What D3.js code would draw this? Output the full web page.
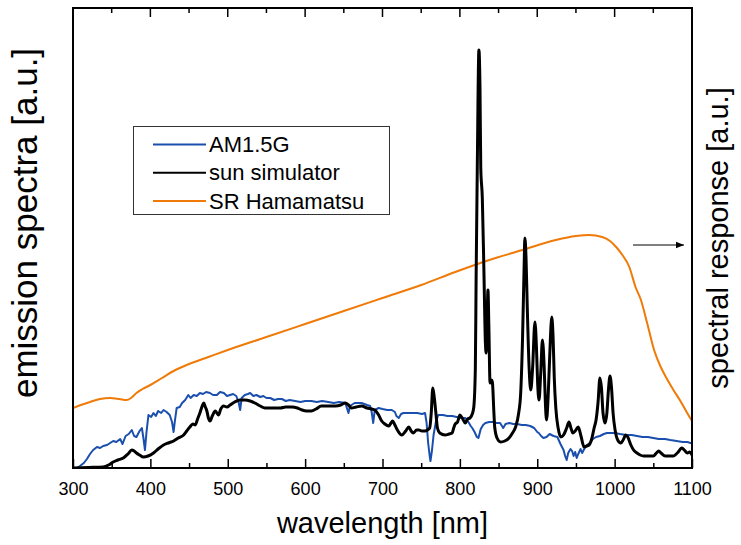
<!DOCTYPE html>
<html>
<head>
<meta charset="utf-8">
<script src="https://cdn.jsdelivr.net/npm/d3@7"></script>
<style>
  body { margin: 0; background: #fff; }
  text { font-family: "Liberation Sans", Arial, sans-serif; }
</style>
</head>
<body>
<div class="chart"></div>
<script>
// AM1.5G reference spectrum (a.u.)
const am15Nm = [300,305,309,314,318,322,326,331,335,339,344,348,352,356,361,364,368,372,376,379,382,386,389,391,393,395,397.5,401,404,407,410,414,417,421,425,428,430,432,434,438,441,445,449,452,456,460,464,468,472,477,481,486,490,495,499,503,507,511,514,516,518,522,526,529,533,537,542,546,550,555,560,565,570,575,580,587,594,600,608,615,622,630,637,644,652,654,656,658,664,673,680,684,686,688,690,695,700,706,712,716,718,721,724,727,732,738,745,751,755,757,759,761,762,764,766,769,772,778,784,790,796,802,807,811,814,816,819,822,824,827,830,833,838,843,847,852,856,859,864,869,874,880,885,891,896,900,902,905,908,912,916,921,926,930,934,936,938,940,943,945,947,949,951,953,956,958,960,963,966,968,972,976,981,986,990,994,1000,1007,1015,1022,1029,1036,1043,1050,1057,1065,1072,1080,1088,1094,1098,1100];
const am15 = [0,0,0.2,0.5,0.9,1.4,1.8,2.1,2.0,2.2,2.3,2.5,2.7,2.6,2.9,2.4,3.2,3.4,3.8,3.2,3.1,3.7,4.0,3.0,1.8,3.6,5.3,5.1,5.5,5.2,5.7,5.5,5.8,5.6,5.3,4.6,3.6,4.9,6.0,6.1,6.5,6.8,7.3,7.0,7.3,7.2,7.5,7.4,7.6,7.5,7.3,7.3,7.6,7.5,7.2,7.3,7.4,7.2,6.6,5.8,7.0,7.3,7.4,7.5,7.2,7.3,7.1,7.2,7.0,7.0,6.8,6.9,6.9,6.7,6.8,6.7,6.6,6.7,6.7,6.6,6.7,6.6,6.5,6.6,6.5,6.0,5.5,6.2,6.5,6.5,6.3,6.2,5.6,4.5,5.8,6.0,5.9,5.8,5.8,5.6,5.2,5.0,5.4,5.5,5.5,5.5,5.5,5.4,5.5,4.5,2.5,1.2,0.7,1.8,3.3,4.6,5.3,5.3,5.2,5.2,5.1,5.0,5.0,4.6,4.2,4.0,3.6,3.1,3.0,3.9,4.3,4.5,4.6,4.6,4.5,4.5,4.0,4.4,4.5,4.4,4.4,4.3,4.3,4.2,4.0,3.6,3.5,3.2,3.0,3.1,3.4,3.2,3.1,2.4,1.8,1.2,0.8,1.5,1.9,1.7,1.2,1.6,1.0,1.4,1.9,1.5,1.8,2.2,2.4,2.5,2.9,3.1,3.2,3.4,3.5,3.5,3.5,3.4,3.3,3.3,3.2,3.1,3.1,3.0,2.9,2.9,2.8,2.7,2.6,2.6,2.5,2.5];

// sun simulator emission (a.u.)
const simNm = [300,320,339,346,352,358,365,371,376,379,382,386,391,397,404,410,417,423,430,436,443,447,451,455,458,461,464,467,469,471,473,475,477,480,484,486,488,491,494.6,499,503,509,516,522,529,535,542,548,555,562,568,575,583,590,596,602,608,614,621,630,639,646,652,656,660,666,673,680,686,690,695,699,703,708,711,713,716,720,725,730,734,737,740,744,747,751,755,758,761,763,765,767,769,771,774,781,786,790,792,794,797,800,803,807,810,813,816,818,820,821,822.5,824.6,826,827,829,831,833,834,835,836.3,837.5,839,841,842,844,845,848,852.7,858,863.5,868,872,876,878.6,881,883,884,885.5,887,889.5,891.6,894,897,899,900.5,902.3,904.5,906.7,909,910.5,912,914,916,918.8,920.5,922,924,927,930.5,934,938,941,943.5,946,949,953,956.5,960.5,964,967,970,973.5,976,978.5,981,983,985,987.6,990,992,994,996,998,1000.6,1004,1008,1011,1014.5,1017,1021,1024.5,1029,1033,1037.5,1044,1050,1054,1057,1060,1065.5,1071,1076,1081,1087,1090,1094,1097,1100];
const sim = [0,0.05,0.1,0.3,0.6,0.8,1.0,1.4,1.8,1.7,1.5,1.3,1.1,1.2,1.5,1.9,2.3,2.5,2.7,3.0,3.3,3.7,4.1,4.4,4.3,4.9,5.5,6.2,6.5,6.1,5.7,5.0,4.7,5.2,5.7,5.5,5.3,5.9,6.2,6.1,6.3,6.6,6.8,6.8,6.7,6.5,6.2,6.0,6.0,6.0,6.0,6.1,6.1,6.0,5.8,5.7,5.7,5.9,6.2,6.2,6.2,6.3,6.5,6.3,6.0,6.1,6.2,6.0,5.9,5.8,5.3,4.7,4.4,4.2,4.5,4.7,4.3,3.7,3.3,3.7,4.1,3.7,3.5,3.8,3.8,3.7,3.7,3.8,4.0,5.5,8.0,7.0,5.5,4.0,3.5,3.3,3.4,3.5,4.0,4.4,4.6,5.3,5.0,4.5,4.9,5.0,5.4,6.1,10,19,30,41.8,38,30,27,20,12.5,11.5,14,17.8,14,8.5,8.8,8.6,5.5,4.1,3.0,2.6,2.7,3.0,3.5,4.1,5.5,7.5,13,20,23,21,16.4,10,7.8,10,14.6,12,8.5,6.8,9.5,12.8,10,6.5,4.8,7,11,15.1,13,9,6.0,4.0,3.1,3.3,4.0,4.6,4.0,3.5,3.7,4.1,3.2,2.1,2.2,2.3,2.8,4.0,4.8,6.5,9.0,8.0,5.5,4.5,5.5,7.8,9.2,8.0,5.5,3.8,2.8,2.5,2.8,3.3,3.1,2.3,1.8,1.5,1.3,1.2,1.2,1.2,1.5,1.7,1.5,1.2,1.2,1.2,1.5,2.0,1.8,1.5,1.6,1.3];

// spectral response of the Hamamatsu detector (a.u.)
const srNm = [300,310,322,335,348,360,369,375,382,390,400,415,430,450,475,500,550,600,650,700,750,794,838,881,924,950,967,984,994,1002,1010,1019,1027,1034,1042,1051,1059,1067,1076,1085,1093,1100];
const sr = [6.0,6.3,6.6,6.9,7.0,6.9,6.8,7.0,7.5,7.9,8.3,9.0,9.7,10.4,11.1,11.8,13.1,14.4,15.7,17.0,18.3,19.6,20.8,21.8,22.8,23.2,23.3,23.1,22.7,22.1,21.3,20.1,18.1,16.8,14.5,11.8,10.2,9.0,7.8,6.7,5.6,4.7];

const xTicks = [300,400,500,600,700,800,900,1000,1100];
const seriesNames = ["AM1.5G", "sun simulator", "SR Hamamatsu"];
const seriesColors = ["#1a4fae", "#000000", "#f07a08"];

const W = 741, H = 545;
const pL = 73, pR = 692, pT = 8, pB = 468;

const svg = d3.select(".chart").append("svg")
  .attr("width", W).attr("height", H);

const x = d3.scaleLinear().domain([300, 1100]).range([pL, pR]);
const y = d3.scaleLinear().domain([0, 46]).range([pB, pT]);
const yR = d3.scaleLinear().domain([0, 46]).range([pB, pT]);

svg.append("clipPath").attr("id", "clip")
  .append("rect").attr("x", pL).attr("y", pT)
  .attr("width", pR - pL).attr("height", pB - pT);

const plot = svg.append("g").attr("clip-path", "url(#clip)");

const toPts = (nm, v) => nm.map((d, i) => [d, v[i]]);

const lineL = d3.line().x(d => x(d[0])).y(d => y(d[1]));
const lineS = d3.line().x(d => x(d[0])).y(d => y(d[1])).curve(d3.curveMonotoneX);
const lineR = d3.line().x(d => x(d[0])).y(d => yR(d[1])).curve(d3.curveMonotoneX);

plot.append("path").datum(toPts(srNm, sr))
  .attr("d", lineR).attr("fill", "none")
  .attr("stroke", seriesColors[2]).attr("stroke-width", 2);

plot.append("path").datum(toPts(am15Nm, am15))
  .attr("d", lineL).attr("fill", "none")
  .attr("stroke", seriesColors[0]).attr("stroke-width", 2)
  .attr("stroke-linejoin", "round");

plot.append("path").datum(toPts(simNm, sim))
  .attr("d", lineS).attr("fill", "none")
  .attr("stroke", seriesColors[1]).attr("stroke-width", 3)
  .attr("stroke-linejoin", "round");

// axes: ticks pointing inward, bottom and top
const minor = d3.range(350, 1100, 100);
const styleTicks = g => {
  g.select(".domain").remove();
  g.selectAll("line").attr("stroke", "#000").attr("stroke-width", 1.5);
};
svg.append("g").attr("transform", `translate(0,${pB})`)
  .call(d3.axisBottom(x).tickValues(xTicks).tickSizeInner(-9).tickSizeOuter(0)
    .tickPadding(14).tickFormat(d3.format("d")))
  .call(styleTicks)
  .call(g => g.selectAll("text").attr("font-size", 18).attr("fill", "#000")
    .attr("font-family", "Liberation Sans, Arial, sans-serif"));
svg.append("g").attr("transform", `translate(0,${pB})`)
  .call(d3.axisBottom(x).tickValues(minor).tickSizeInner(-5).tickSizeOuter(0).tickFormat(""))
  .call(styleTicks);

// top edge: ticks hang down into the plot
const topTicks = svg.append("g");
topTicks.selectAll("line.maj").data(xTicks).join("line").attr("class", "maj")
  .attr("x1", d => x(d)).attr("x2", d => x(d))
  .attr("y1", pT).attr("y2", pT + 9)
  .attr("stroke", "#000").attr("stroke-width", 1.5);
topTicks.selectAll("line.min").data(minor).join("line").attr("class", "min")
  .attr("x1", d => x(d)).attr("x2", d => x(d))
  .attr("y1", pT).attr("y2", pT + 5)
  .attr("stroke", "#000").attr("stroke-width", 1.5);

svg.append("rect").attr("x", pL).attr("y", pT)
  .attr("width", pR - pL).attr("height", pB - pT)
  .attr("fill", "none").attr("stroke", "#000").attr("stroke-width", 2);

// axis titles
svg.append("text").attr("x", (pL + pR) / 2).attr("y", 533)
  .attr("text-anchor", "middle").attr("font-size", 29).text("wavelength [nm]");
svg.append("text").attr("transform", "translate(37,223) rotate(-90)")
  .attr("text-anchor", "middle").attr("font-size", 35).text("emission spectra [a.u.]");
svg.append("text").attr("transform", `translate(728,${(pT + pB) / 2}) rotate(-90)`)
  .attr("text-anchor", "middle").attr("font-size", 29).text("spectral response [a.u.]");

// arrow pointing to right axis
svg.append("defs").append("marker").attr("id", "arr")
  .attr("viewBox", "0 0 10 10").attr("refX", 10).attr("refY", 5)
  .attr("markerWidth", 10).attr("markerHeight", 8).attr("markerUnits", "userSpaceOnUse")
  .attr("orient", "auto")
  .append("path").attr("d", "M0,1 L10,5 L0,9 Z").attr("fill", "#000");
svg.append("line").attr("x1", 633).attr("x2", 684).attr("y1", 245).attr("y2", 245)
  .attr("stroke", "#000").attr("stroke-width", 1).attr("marker-end", "url(#arr)");

// legend
const lg = svg.append("g");
lg.append("rect").attr("x", 133.5).attr("y", 126.5).attr("width", 256).attr("height", 88)
  .attr("fill", "#fff").attr("stroke", "#333").attr("stroke-width", 1);
seriesNames.forEach((name, i) => {
  const yy = 144.5 + i * 28.3;
  lg.append("line").attr("x1", 153).attr("x2", 206).attr("y1", yy).attr("y2", yy)
    .attr("stroke", seriesColors[i]).attr("stroke-width", 2);
  lg.append("text").attr("x", 209).attr("y", yy + 7.5).attr("font-size", 22).text(name);
});
</script>
</body>
</html>
